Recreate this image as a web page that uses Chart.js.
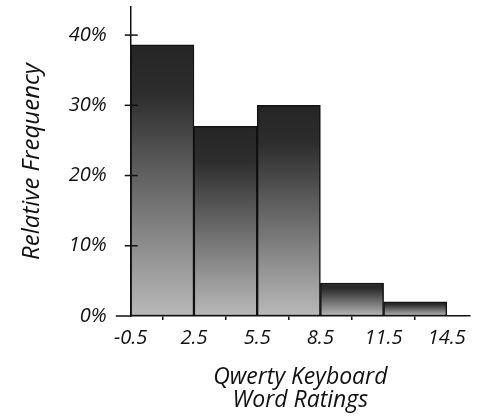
<!DOCTYPE html>
<html>
<head>
<meta charset="utf-8">
<script src="https://cdn.jsdelivr.net/npm/chart.js@4.4.1/dist/chart.umd.min.js"></script>
<style>
  html, body { margin: 0; padding: 0; background: #fff; }
  #wrap { width: 484px; height: 420px; position: relative; }
</style>
</head>
<body>
<div id="wrap"><canvas id="histChart"></canvas></div>
<script>
// bin edges and relative frequency (%) per bin
const binEdges = [-0.5, 2.5, 5.5, 8.5, 11.5, 14.5];
const binCenters = [1, 4, 7, 10, 13];
const relFreq = [38.6, 27, 30, 4.7, 2];
const yTicks = [0, 10, 20, 30, 40];

const FONT = "'Open Sans', 'DejaVu Sans', sans-serif";

// dark at the top of each bar, fading to light grey at its base
function barGradient(c) {
    const chart = c.chart;
    const y = chart.scales.y;
    if (!y || !c.raw) return '#666';
    const top = y.getPixelForValue(c.raw.y);
    const bottom = y.getPixelForValue(0);
    if (!isFinite(top) || !isFinite(bottom) || bottom - top < 1) return '#666';
    const g = chart.ctx.createLinearGradient(0, top, 0, bottom);
    g.addColorStop(0, '#252525');
    g.addColorStop(0.18, '#2d2d2d');
    g.addColorStop(1, '#b9b9b9');
    return g;
}

// short tick marks that cross the y axis, and the x axis running a bit past it
const axisMarks = {
    id: 'axisMarks',
    afterDatasetsDraw(chart) {
        const ctx = chart.ctx, y = chart.scales.y, a = chart.chartArea;
        ctx.save();
        ctx.strokeStyle = '#111';
        ctx.lineWidth = 1.5;
        yTicks.slice(1).forEach(v => {
            const py = y.getPixelForValue(v);
            ctx.beginPath();
            ctx.moveTo(a.left - 6, py);
            ctx.lineTo(a.left + 7, py);
            ctx.stroke();
        });
        ctx.beginPath();
        ctx.moveTo(a.left - 15, a.bottom);
        ctx.lineTo(a.left, a.bottom);
        ctx.stroke();
        ctx.restore();
    }
};

new Chart(document.getElementById('histChart'), {
    type: 'bar',
    data: {
        datasets: [{
            data: binCenters.map((c, i) => ({ x: c, y: relFreq[i] })),
            backgroundColor: barGradient,
            borderColor: '#111',
            borderWidth: 1.5,
            borderSkipped: false,
            barPercentage: 1,
            categoryPercentage: 1
        }]
    },
    options: {
        responsive: true,
        maintainAspectRatio: false,
        animation: false,
        layout: { padding: { top: 7, right: 14, left: 14, bottom: 4 } },
        plugins: { legend: { display: false }, tooltip: { enabled: false } },
        scales: {
            x: {
                type: 'linear',
                offset: false,
                min: -0.5,
                max: 15.6,
                afterBuildTicks: s => { s.ticks = binEdges.map(v => ({ value: v })); },
                grid: { display: true, drawOnChartArea: false, tickLength: 4, color: '#111', lineWidth: 1.5 },
                border: { display: true, color: '#111', width: 1.5 },
                ticks: {
                    color: '#111',
                    font: { family: FONT, size: 20, style: 'italic' },
                    padding: 6,
                    maxRotation: 0,
                    autoSkip: false,
                    callback: v => String(v)
                },
                title: {
                    display: true,
                    text: ['Qwerty Keyboard', 'Word Ratings'],
                    color: '#111',
                    font: { family: FONT, size: 23, style: 'italic', lineHeight: 1.0 },
                    padding: { top: 10 }
                }
            },
            y: {
                min: 0,
                max: 44,
                afterBuildTicks: s => { s.ticks = yTicks.map(v => ({ value: v })); },
                afterFit: s => { s.paddingTop = 0; },
                grid: { display: false },
                border: { display: true, color: '#111', width: 1.5 },
                ticks: {
                    color: '#111',
                    font: { family: FONT, size: 20, style: 'italic' },
                    padding: 16,
                    callback: v => v + '%'
                },
                title: {
                    display: true,
                    text: 'Relative Frequency',
                    color: '#111',
                    font: { family: FONT, size: 24, style: 'italic' },
                    padding: { bottom: 6 }
                }
            }
        }
    },
    plugins: [axisMarks]
});
</script>
</body>
</html>
